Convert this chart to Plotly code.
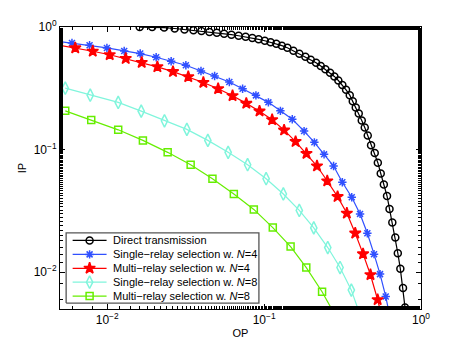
import plotly.graph_objects as go

# values (OP on x, IP on y, both log scale)
op_direct = [0.01611, 0.01934, 0.02307, 0.02692, 0.03108, 0.03546, 0.03988, 0.04483, 0.04995, 0.05561,
             0.06189, 0.06880, 0.07622, 0.08410, 0.09226, 0.1010, 0.1100, 0.1196, 0.1298, 0.1407,
             0.1537, 0.1678, 0.1833, 0.1983, 0.2144, 0.2297, 0.2457, 0.2633, 0.2804, 0.2973,
             0.3152, 0.3329, 0.3515, 0.3673, 0.3838, 0.4011, 0.4192, 0.4380, 0.4577, 0.4804,
             0.5071, 0.5307, 0.5538, 0.5796, 0.6073, 0.6300, 0.6564, 0.6860, 0.7115, 0.7384,
             0.7680, 0.7908]
ip_direct = [0.998, 0.998, 0.989, 0.972, 0.954, 0.940, 0.926, 0.912, 0.897, 0.882,
             0.866, 0.848, 0.831, 0.812, 0.793, 0.772, 0.750, 0.729, 0.704, 0.677,
             0.640, 0.605, 0.572, 0.541, 0.511, 0.481, 0.452, 0.424, 0.395, 0.366,
             0.337, 0.307, 0.278, 0.248, 0.2207, 0.1965, 0.1729, 0.1511, 0.1300, 0.1086,
             0.0936, 0.0781, 0.0638, 0.0519, 0.0418, 0.0328, 0.02535, 0.01913, 0.01428, 0.01064,
             0.00741, 0.00515]

op_single4 = [0.004597, 0.005960, 0.007718, 0.009956, 0.01283, 0.01623, 0.02051, 0.02556, 0.03171, 0.03959,
              0.04838, 0.06003, 0.07293, 0.08867, 0.1065, 0.1270, 0.1512, 0.1798, 0.2091, 0.2411,
              0.2772, 0.3152, 0.3619, 0.4088, 0.4550, 0.5020, 0.5482, 0.5958, 0.6393]
ip_single4 = [0.772, 0.741, 0.7096, 0.6745, 0.6376, 0.6072, 0.5665, 0.5255, 0.4875, 0.4374,
              0.3983, 0.3558, 0.3138, 0.2768, 0.2427, 0.2070, 0.1765, 0.1415, 0.1145, 0.0914,
              0.0734, 0.0541, 0.0408, 0.02984, 0.02077, 0.01401, 0.00963, 0.00633, 0.00409]

op_multi4 = [0.004802, 0.006254, 0.008087, 0.01037, 0.01312, 0.01659, 0.02088, 0.02625, 0.03285, 0.04100,
             0.05093, 0.06292, 0.07700, 0.09348, 0.1125, 0.1341, 0.1587, 0.1862, 0.2173, 0.2526,
             0.2939, 0.3368, 0.3810, 0.4272, 0.4762, 0.5292, 0.5812]
ip_multi4 = [0.7148, 0.6745, 0.6340, 0.5937, 0.5528, 0.5129, 0.4733, 0.4325, 0.3924, 0.3525,
             0.3133, 0.2748, 0.2382, 0.2058, 0.1749, 0.1441, 0.1162, 0.0928, 0.0734, 0.0554,
             0.0413, 0.03023, 0.02077, 0.01409, 0.00951, 0.00595, 0.00365]

op_single8 = [0.005402, 0.007794, 0.01175, 0.01647, 0.02317, 0.03218, 0.04379, 0.05899, 0.07848, 0.1030,
              0.1326, 0.1676, 0.2073, 0.2545, 0.3048, 0.3598, 0.4148]
ip_single8 = [0.3168, 0.2778, 0.2424, 0.2058, 0.1716, 0.1461, 0.1188, 0.0949, 0.0752, 0.0578,
              0.0434, 0.03186, 0.02295, 0.01586, 0.0109, 0.00713, 0.00425]

op_multi8 = [0.005402, 0.007909, 0.01175, 0.01688, 0.02428, 0.03402, 0.04685, 0.06412, 0.08598, 0.1136,
             0.1475, 0.1857, 0.2341, 0.2917]
ip_multi8 = [0.2070, 0.1739, 0.1449, 0.1188, 0.0949, 0.0752, 0.0577, 0.0434, 0.03246, 0.02307,
             0.01616, 0.01088, 0.00691, 0.00417]

tick_vals = [0.01, 0.1, 1]
tick_text = ["10<sup>−2</sup>", "10<sup>−1</sup>", "10<sup>0</sup>"]

series = [
    ("Direct transmission", op_direct, ip_direct, "black", "circle-open", 7),
    ("Single−relay selection w. <i>N</i>=4", op_single4, ip_single4, "#3050ff", "asterisk-open", 7),
    ("Multi−relay selection w. <i>N</i>=4", op_multi4, ip_multi4, "#ff0000", "star", 8.5),
    ("Single−relay selection w. <i>N</i>=8", op_single8, ip_single8, "#80f5dc", "diamond-tall-open", 9),
    ("Multi−relay selection w. <i>N</i>=8", op_multi8, ip_multi8, "#66ee00", "square-open", 7),
]

FONT = "Liberation Sans, Arial, sans-serif"

fig = go.Figure()
for name, xs, ys, color, symbol, size in series:
    fig.add_trace(go.Scatter(
        x=xs, y=ys, mode="lines+markers", name=name, showlegend=False,
        line=dict(color=color, width=1.2),
        marker=dict(symbol=symbol, size=size, color=color,
                    line=dict(color=color, width=1.5))))

# MATLAB-style compact legend, drawn on an overlay axis spanning the plot area (0..1)
box_x0, box_x1, box_y0, box_y1 = 0.017, 0.551, 0.021, 0.270
row_top, row_step = 0.243, 0.0493
line_x0, line_x1, mark_x, text_x = 0.035, 0.129, 0.082, 0.141

fig.add_trace(go.Scatter(
    x=[box_x0, box_x1, box_x1, box_x0, box_x0], y=[box_y0, box_y0, box_y1, box_y1, box_y0],
    mode="lines", fill="toself", fillcolor="white", line=dict(color="#555", width=1.3),
    xaxis="x2", yaxis="y2", showlegend=False, hoverinfo="skip"))

for i, (name, xs, ys, color, symbol, size) in enumerate(series):
    yr = row_top - i * row_step
    fig.add_trace(go.Scatter(
        x=[line_x0, line_x1], y=[yr, yr], mode="lines", line=dict(color=color, width=1.2),
        xaxis="x2", yaxis="y2", showlegend=False, hoverinfo="skip"))
    fig.add_trace(go.Scatter(
        x=[mark_x], y=[yr], mode="markers",
        marker=dict(symbol=symbol, size=size, color=color, line=dict(color=color, width=1.5)),
        xaxis="x2", yaxis="y2", showlegend=False, hoverinfo="skip"))
    fig.add_annotation(x=text_x, y=yr, xref="x2", yref="y2", text=name, showarrow=False,
                       xanchor="left", yanchor="middle",
                       font=dict(family=FONT, size=11, color="black"))

axis_common = dict(
    type="log", showgrid=False, zeroline=False,
    showline=True, linecolor="black", linewidth=1, mirror="ticks",
    ticks="inside", ticklen=5, tickcolor="black",
    tickvals=tick_vals, ticktext=tick_text,
    minor=dict(ticks="inside", ticklen=3, tickcolor="black"),
    tickfont=dict(family=FONT, size=12, color="black"),
)

fig.update_layout(
    width=464, height=348,
    margin=dict(l=60, r=43, t=27, b=39),
    plot_bgcolor="white", paper_bgcolor="white",
    font=dict(family=FONT, size=11, color="black"),
    showlegend=False,
    xaxis=dict(axis_common, range=[-2.301, 0],
               title=dict(text="OP", standoff=2, font=dict(size=11))),
    yaxis=dict(axis_common, range=[-2.301, 0],
               title=dict(text="IP", standoff=4, font=dict(size=11))),
    xaxis2=dict(overlaying="x", anchor="y2", range=[0, 1], visible=False, fixedrange=True),
    yaxis2=dict(overlaying="y", anchor="x2", range=[0, 1], visible=False, fixedrange=True),
)

# the page body has a default 8px margin; remove it so the figure sits at the window origin
fig.write_html("out.html", config={"displayModeBar": False},
               post_script="document.body.style.margin='0';")
